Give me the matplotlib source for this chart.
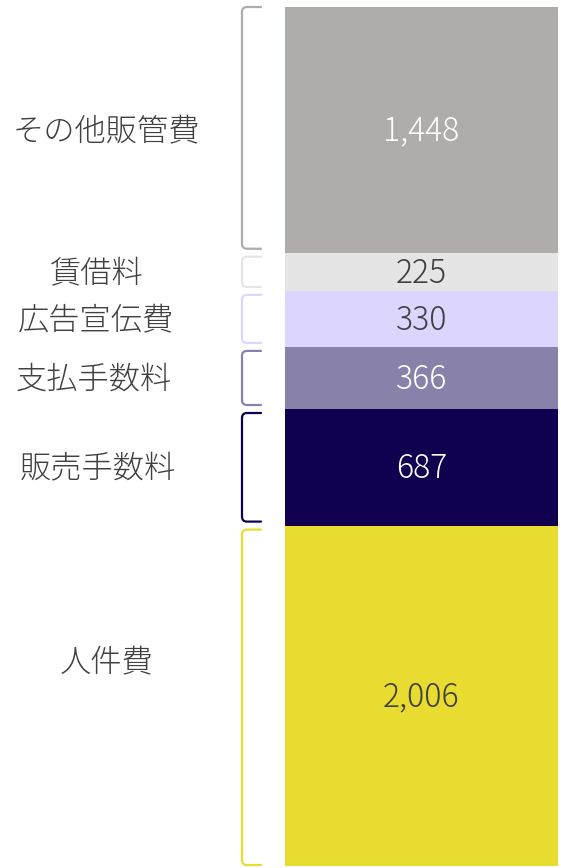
import numpy as np
import matplotlib
matplotlib.use('Agg')
import matplotlib.pyplot as plt
from matplotlib.path import Path
from matplotlib.patches import PathPatch

plt.rcParams['font.family'] = ['Noto Sans CJK JP', 'DejaVu Sans']

# data (bottom to top)
labels = ['人件費', '販売手数料', '支払手数料', '広告宣伝費', '賃借料', 'その他販管費']
values = [2006, 687, 366, 330, 225, 1448]
colors = ['#E8DC30', '#10004F', '#8882AB', '#DCD6FF', '#E5E5E5', '#B0ACAB']
text_colors = ['#404040', 'white', 'white', '#404040', '#404040', 'white']

W, H = 561, 868
fig = plt.figure(figsize=(W / 100, H / 100), dpi=100)
ax = fig.add_axes([0, 0, 1, 1])
ax.axis('off')

total = sum(values)
px = total / 859.0  # data units per pixel
ax.set_xlim(0, W)
ax.set_ylim(-2 * px, total + 7 * px)

bottoms = np.concatenate([[0], np.cumsum(values)[:-1]])
ax.bar(421.5, values, width=273, bottom=bottoms, color=colors, linewidth=0)

# labels and brackets
label_shift = [32, -2, -2, -2, -3, -2]  # px, small manual nudges
label_x = [107, 98, 94, 96, 97, 106]
for i, (lab, v, b) in enumerate(zip(labels, values, bottoms)):
    mid = b + v / 2
    ax.text(421.5, mid - 1.5 * px, f'{v:,}', ha='center', va='center', fontsize=23,
            color=text_colors[i], fontweight='light')
    ax.text(label_x[i], mid + label_shift[i] * px, lab, ha='center', va='center',
            fontsize=22.5, color='#404040', fontweight='light')
    lo = b + 4 * px
    hi = b + v - 4 * px
    if i == len(values) - 1:
        hi = b + v
    if i == 0:
        lo = b + 1 * px
    r = 5
    xa, xb = 261, 242
    verts = [(xa, hi), (xb + r, hi), (xb, hi), (xb, hi - r * px),
             (xb, lo + r * px), (xb, lo), (xb + r, lo), (xa, lo)]
    codes = [Path.MOVETO, Path.LINETO, Path.CURVE3, Path.CURVE3,
             Path.LINETO, Path.CURVE3, Path.CURVE3, Path.LINETO]
    ax.add_patch(PathPatch(Path(verts, codes), fill=False,
                           edgecolor=colors[i], linewidth=1.6,
                           capstyle='round'))

fig.savefig('out.png', dpi=100)
